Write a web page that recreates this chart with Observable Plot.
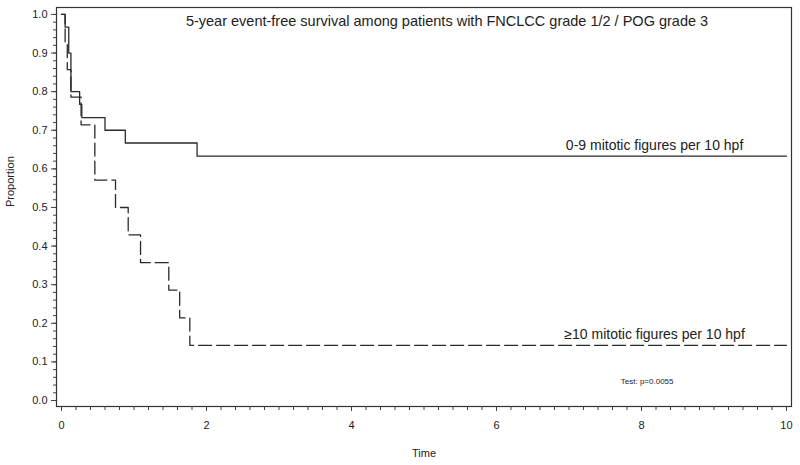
<!DOCTYPE html>
<html><head><meta charset="utf-8">
<script src="https://cdn.jsdelivr.net/npm/d3@7"></script>
<script src="https://cdn.jsdelivr.net/npm/@observablehq/plot@0.6"></script>
<style>
body{margin:0;background:#fff}
#chart svg{font-family:"Liberation Sans",Arial,sans-serif;display:block}
</style>
</head><body><div id="chart"></div>
<script>
// Kaplan-Meier step data (time in years, proportion event-free)
const lowTimes  = [0, 0.05, 0.10, 0.13, 0.25, 0.28, 0.60, 0.88, 1.87, 10];
const lowSurv   = [1.0, 0.967, 0.9, 0.8, 0.767, 0.733, 0.70, 0.667, 0.633, 0.633];
const highTimes = [0, 0.05, 0.08, 0.13, 0.27, 0.46, 0.745, 0.92, 1.09, 1.48, 1.63, 1.77, 10];
const highSurv  = [1.0, 0.929, 0.857, 0.786, 0.714, 0.571, 0.5, 0.429, 0.357, 0.286, 0.214, 0.143, 0.143];

const seriesNames = ["0-9 mitotic figures per 10 hpf", "\u226510 mitotic figures per 10 hpf"];
const titleText = "5-year event-free survival among patients with FNCLCC grade 1/2 / POG grade 3";
const testText = "Test: p=0.0055";

const yTicks = d3.range(0, 11).map(i => i / 10);
const yMinor = d3.range(0, 51).map(i => i / 50);
const xTicks = [0, 2, 4, 6, 8, 10];
const xMinor = d3.range(0, 51).map(i => i / 5);

const low = lowTimes.map((t, i) => ({t, s: lowSurv[i]}));
const high = highTimes.map((t, i) => ({t, s: highSurv[i]}));
const labels = [
  {t: 8.18, s: lowSurv[lowSurv.length - 1], text: seriesNames[0]},
  {t: 8.18, s: highSurv[highSurv.length - 1], text: seriesNames[1]}
];

const ink = "#222";
const chart = Plot.plot({
  width: 800,
  height: 465,
  marginLeft: 56,
  marginRight: 9,
  marginTop: 7,
  marginBottom: 59,
  x: {domain: [-0.069, 10.069]},
  y: {domain: [-0.0155, 1.018]},
  style: {fontFamily: "'Liberation Sans', Arial, sans-serif", color: ink, background: "#fff"},
  marks: [
    Plot.frame({stroke: "#333", strokeWidth: 1.2}),
    Plot.axisY(yMinor, {tickSize: 3, text: null, label: null, stroke: "#444"}),
    Plot.axisY(yTicks, {tickSize: 5, tickPadding: 4, tickFormat: d3.format(".1f"), label: null, fontSize: 11, stroke: "#444", fill: ink}),
    Plot.axisX(xMinor, {tickSize: 4, text: null, label: null, stroke: "#444"}),
    Plot.axisX(xTicks, {tickSize: 5, tickPadding: 10, tickFormat: d3.format("d"), label: null, fontSize: 11, stroke: "#444", fill: ink}),
    Plot.line(low, {x: "t", y: "s", curve: "step-after", stroke: "#2a2a2a", strokeWidth: 1.3}),
    Plot.line(high, {x: "t", y: "s", curve: "step-after", stroke: "#2a2a2a", strokeWidth: 1.3, strokeDasharray: "13,5"}),
    Plot.text(labels, {x: "t", y: "s", text: "text", dy: -11, fontSize: 14, fill: ink}),
    Plot.text([titleText], {frameAnchor: "top", dx: 23, dy: 8, fontSize: 14.5, fill: ink}),
    Plot.text([testText], {frameAnchor: "bottom-right", dx: -118, dy: -23, fontSize: 8, fill: ink}),
    Plot.text(["Proportion"], {frameAnchor: "left", dx: -46, rotate: -90, fontSize: 11, fill: ink}),
    Plot.text(["Time"], {frameAnchor: "bottom", dy: 50, fontSize: 11, fill: ink})
  ]
});
document.getElementById("chart").appendChild(chart);
</script>
</body></html>
